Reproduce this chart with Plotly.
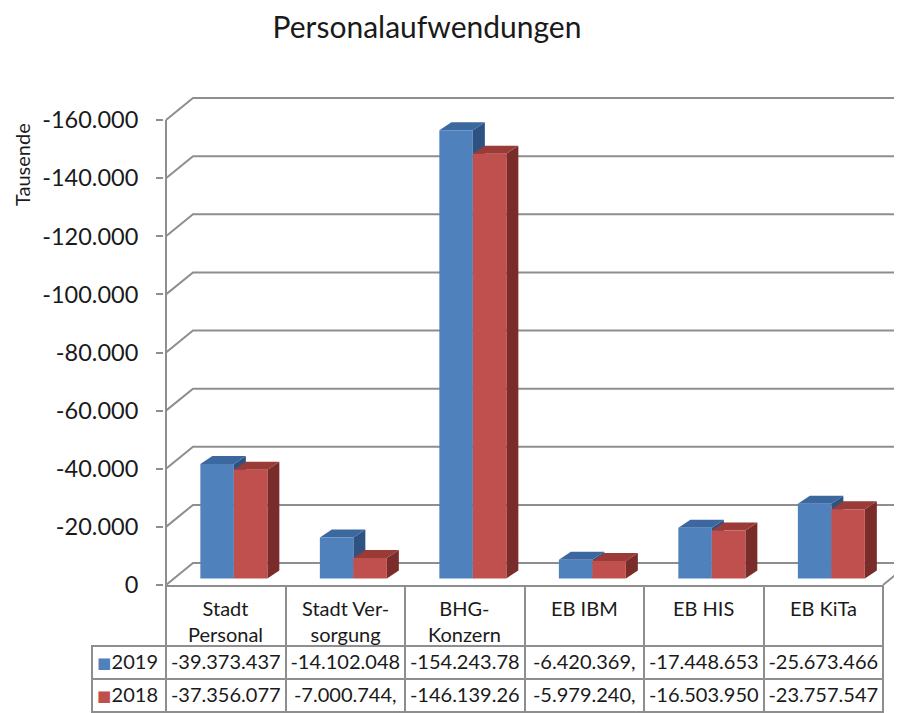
import plotly.graph_objects as go

# ---------------- data ----------------
categories = ["Stadt<br>Personal", "Stadt Ver-<br>sorgung", "BHG-<br>Konzern", "EB IBM", "EB HIS", "EB KiTa"]
series_names = ["2019", "2018"]
values_2019 = [-39373437, -14102048, -154243780, -6420369, -17448653, -25673466]
values_2018 = [-37356077, -7000744, -146139260, -5979240, -16503950, -23757547]
table_2019 = ["-39.373.437", "-14.102.048", "-154.243.78", "-6.420.369,", "-17.448.653", "-25.673.466"]
table_2018 = ["-37.356.077", "-7.000.744,", "-146.139.26", "-5.979.240,", "-16.503.950", "-23.757.547"]
y_ticks = [0, -20000, -40000, -60000, -80000, -100000, -120000, -140000, -160000]
y_tick_labels = ["0", "-20.000", "-40.000", "-60.000", "-80.000", "-100.000", "-120.000", "-140.000", "-160.000"]
title_text = "Personalaufwendungen"
y_title = "Tausende"

# ---------------- styling / geometry ----------------
OFF = 8                      # page body margin: the figure starts at (8, 8)
SW, SH = 902, 713            # screen size
W, H = SW - OFF, SH - OFF    # figure size
FONT = "Lato"
TXT = "#1a1a1a"
GRID = "#8e8e8e"
FRONT = {"2019": "#4F81BD", "2018": "#C0504D"}
TOP = {"2019": "#3C68A0", "2018": "#9A3B38"}
SIDE = {"2019": "#2E5282", "2018": "#7A2C2A"}

# screen-pixel layout
S_PLOT_L, S_PLOT_T, S_PLOT_B = 164, 90, 585
S_AX_X = 166                 # front-left edge (x = -0.5)
PXX = 119.5                  # pixels per category
PXY = 2.906 / 1000           # pixels per value unit (thousands)
S_TABLE_TOP = 586
HEADER_H, ROW_H = 60, 33


def fx_(sx):
    return (sx - OFF) / W


def fy_(sy):
    return 1 - (sy - OFF) / H


x0 = -0.5 - (S_AX_X - S_PLOT_L) / PXX
x1 = -0.5 + (SW - S_AX_X) / PXX
y_top = -(S_PLOT_B - S_PLOT_T) / PXY

WDX = 27 / PXX        # wall depth (category units)
WDY = 22 / PXY        # wall depth (value units)
BDX = 12 / PXX        # bar depth
BDY = 8 / PXY
BX0 = 0.3 * WDX       # bars sit at 30% of depth
BASE = -0.3 * WDY
BW = 33.5 / PXX       # bar width

fig = go.Figure()

# back wall gridlines + left wall diagonals
n = len(categories)
gx, gy = [], []
for t in y_ticks:
    gx += [-0.5, -0.5 + WDX, x1 + 0.2, None]
    gy += [t, t - WDY, t - WDY, None]
gx += [n - 0.5, n - 0.5 + WDX, None]
gy += [0, -WDY, None]
fig.add_trace(go.Scatter(x=gx, y=gy, mode="lines", line=dict(color=GRID, width=2),
                         hoverinfo="skip", showlegend=False))
# front axis line
fig.add_trace(go.Scatter(x=[-0.5, -0.5], y=[0, y_ticks[-1]], mode="lines",
                         line=dict(color=GRID, width=2), hoverinfo="skip", showlegend=False))


def faces(vals_k, left_shift):
    fx, fy, tx, ty, sx, sy = [], [], [], [], [], []
    for i, v in enumerate(vals_k):
        l = i + BX0 + left_shift
        r = l + BW
        top = BASE + v
        fx += [l, r, r, l, l, None]
        fy += [BASE, BASE, top, top, BASE, None]
        tx += [l, r, r + BDX, l + BDX, l, None]
        ty += [top, top, top - BDY, top - BDY, top, None]
        sx += [r, r + BDX, r + BDX, r, r, None]
        sy += [BASE, BASE - BDY, top - BDY, top, BASE, None]
    return (fx, fy), (tx, ty), (sx, sy)


for name, vals, shift in [("2019", values_2019, -BW), ("2018", values_2018, 0.0)]:
    vk = [v / 1000 for v in vals]
    (fx, fy), (tx, ty), (sx, sy) = faces(vk, shift)
    for xs, ys, col in [(sx, sy, SIDE[name]), (tx, ty, TOP[name]), (fx, fy, FRONT[name])]:
        fig.add_trace(go.Scatter(x=xs, y=ys, mode="lines", fill="toself", fillcolor=col,
                                 line=dict(width=0, color=col), hoverinfo="skip",
                                 showlegend=False, name=name))

# data table (header texts are placed as annotations so each line is centred)
col_vals = [series_names] + [[table_2019[i], table_2018[i]] for i in range(n)]
clear = "rgba(0,0,0,0)"
fig.add_trace(go.Table(
    domain=dict(x=[fx_(92), fx_(883)], y=[0, fy_(S_TABLE_TOP)]),
    columnwidth=[74] + [PXX] * n,
    header=dict(values=[""] * (n + 1), height=HEADER_H, align="center",
                font=dict(family=FONT, size=20, color=TXT),
                line=dict(color=[clear] + [GRID] * n, width=2),
                fill=dict(color=[clear] + ["white"] * n)),
    cells=dict(values=col_vals, height=ROW_H, align=["right"] + ["center"] * n,
               font=dict(family=FONT, size=20, color=TXT),
               line=dict(color=GRID, width=2), fill=dict(color="white")),
))

annotations = [dict(text=y_title, xref="paper", yref="paper", x=fx_(22), y=fy_(165),
                    textangle=-90, showarrow=False, xanchor="center", yanchor="middle",
                    font=dict(family=FONT, size=20, color=TXT))]
for i, cat in enumerate(categories):
    annotations.append(dict(text=cat, xref="x", yref="paper", x=i, y=fy_(594),
                            xanchor="center", yanchor="top", align="center", showarrow=False,
                            font=dict(family=FONT, size=20, color=TXT)))
for k, s in enumerate(series_names):
    row_c = S_TABLE_TOP + HEADER_H + ROW_H * (k + 0.5)
    annotations.append(dict(text="■", xref="paper", yref="paper", x=fx_(104), y=fy_(row_c),
                            xanchor="center", yanchor="middle", showarrow=False,
                            font=dict(family="DejaVu Sans", size=15, color=FRONT[s])))

fig.update_layout(
    width=W, height=H,
    margin=dict(l=0, r=0, t=0, b=0, pad=0),
    paper_bgcolor="white", plot_bgcolor="white",
    showlegend=False,
    title=dict(text=title_text, xref="container", yref="container",
               x=fx_(427), xanchor="center", y=fy_(27), yanchor="middle",
               font=dict(family=FONT, size=30, color=TXT)),
    xaxis=dict(domain=[fx_(S_PLOT_L), 1], range=[x0, x1], visible=False, fixedrange=True,
               automargin=False),
    yaxis=dict(domain=[fy_(S_PLOT_B), fy_(S_PLOT_T)], range=[0, y_top],
               tickvals=y_ticks, ticktext=y_tick_labels,
               ticks="outside", ticklen=7, tickwidth=2, tickcolor=GRID,
               ticklabelstandoff=13, automargin=False,
               showgrid=False, zeroline=False, showline=False,
               tickfont=dict(family=FONT, size=23.5, color=TXT), fixedrange=True),
    annotations=annotations,
)

fig.write_html("out.html")
